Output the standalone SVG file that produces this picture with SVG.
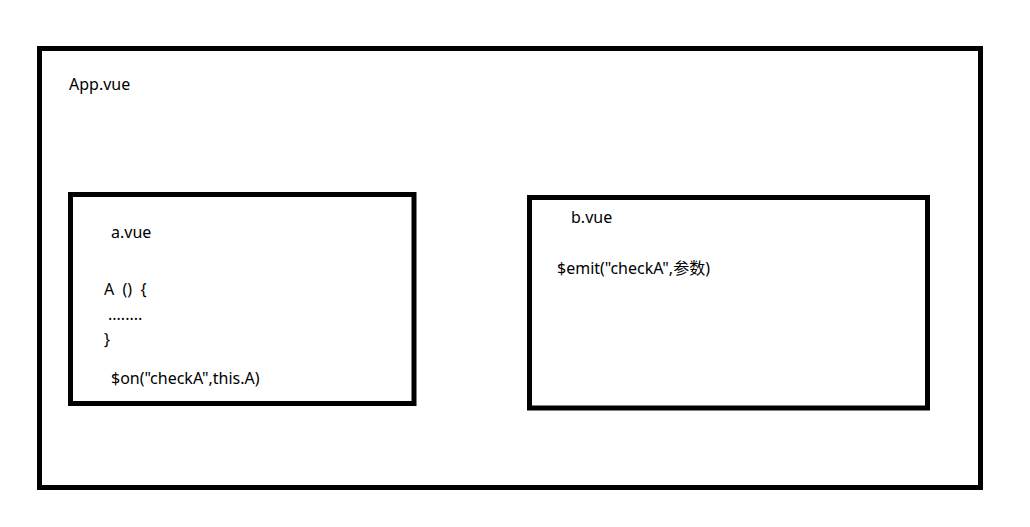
<svg xmlns="http://www.w3.org/2000/svg" width="1030" height="527" viewBox="0 0 1030 527">
<style>
.box{fill:none;stroke:#000;stroke-width:5}
text{font-family:"Noto Sans","Noto Sans CJK SC",sans-serif;font-size:16px;fill:#000;white-space:pre}
</style>
<rect width="1030" height="527" fill="#fff"/>
<g id="app">
<rect class="box" x="39.5" y="48.5" width="941" height="439"/>
<text x="69" y="90">App.vue</text>
</g>
<g id="a-vue">
<rect class="box" x="70.5" y="194.5" width="343.5" height="209"/>
<text x="111" y="238">a.vue</text>
<text x="104" y="295" xml:space="preserve">A  ()  {</text>
<text x="108" y="320">........</text>
<text x="104" y="345">}</text>
<text x="111" y="384">$on("checkA",this.A)</text>
</g>
<g id="b-vue">
<rect class="box" x="529.5" y="197.5" width="398" height="210.5"/>
<text x="571" y="223">b.vue</text>
<text x="557" y="274">$emit("checkA",参数)</text>
</g>
<g id="connectors"/>
</svg>
